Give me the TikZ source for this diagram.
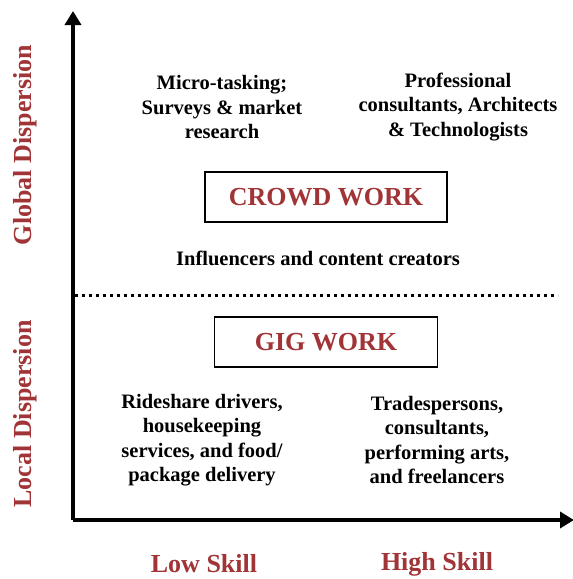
\documentclass[tikz,border=0pt]{standalone}
\usepackage{fontspec}
\setmainfont{Liberation Serif}
\usepackage{xcolor}
\usetikzlibrary{arrows.meta}
\definecolor{darkred}{RGB}{160,52,54}

\begin{document}
\begin{tikzpicture}[>={Triangle[length=14pt,width=16pt]},x=1pt,y=-1pt,
  txt/.style={text centered,align=center,font=\bfseries\fontsize{20.5}{24.5}\selectfont},
  lbl/.style={text centered,inner sep=1pt,text=darkred,font=\bfseries\fontsize{26}{28}\selectfont},
  work/.style={draw,line width=1.4pt,text=darkred,font=\bfseries\fontsize{26}{28}\selectfont}]

\useasboundingbox (0,0) rectangle (573,579);

\coordinate(o) at (73,520);
\coordinate(ytop) at (73,11);
\coordinate(xend) at (574,520);
\coordinate(dl) at (75,295);
\coordinate(dr) at (558,295);

\node(micro) at (222,107)[txt]{Micro-tasking;\\Surveys \& market\\research};
\node(prof) at (458,107)[txt]{Professional\\consultants, Architects\\\& Technologists};
\node(crowd) at (326,197)[work,minimum width=242pt,minimum height=50pt]{CROWD WORK};
\node(infl) at (318,258)[txt]{Influencers and content creators};
\node(gig) at (326,342)[work,minimum width=223pt,minimum height=50pt]{GIG WORK};
\node(ride) at (202,440)[txt]{Rideshare drivers,\\housekeeping\\services, and food/\\package delivery};
\node(trade) at (437,440)[txt]{Tradespersons,\\consultants,\\performing arts,\\and freelancers};

\node(low) at (204,564)[lbl]{Low Skill};
\node(high) at (437,564)[lbl]{High Skill};
\node(glob) at (25,145)[lbl,rotate=90]{Global Dispersion};
\node(loc) at (25,414)[lbl,rotate=90]{Local Dispersion};

\draw[->,line width=3.6pt] (o) -- (ytop);
\draw[->,line width=3.6pt] (o) -- (xend);
\draw[line width=3pt,dash pattern=on 3pt off 4pt] (dl) -- (dr);

\end{tikzpicture}
\end{document}
